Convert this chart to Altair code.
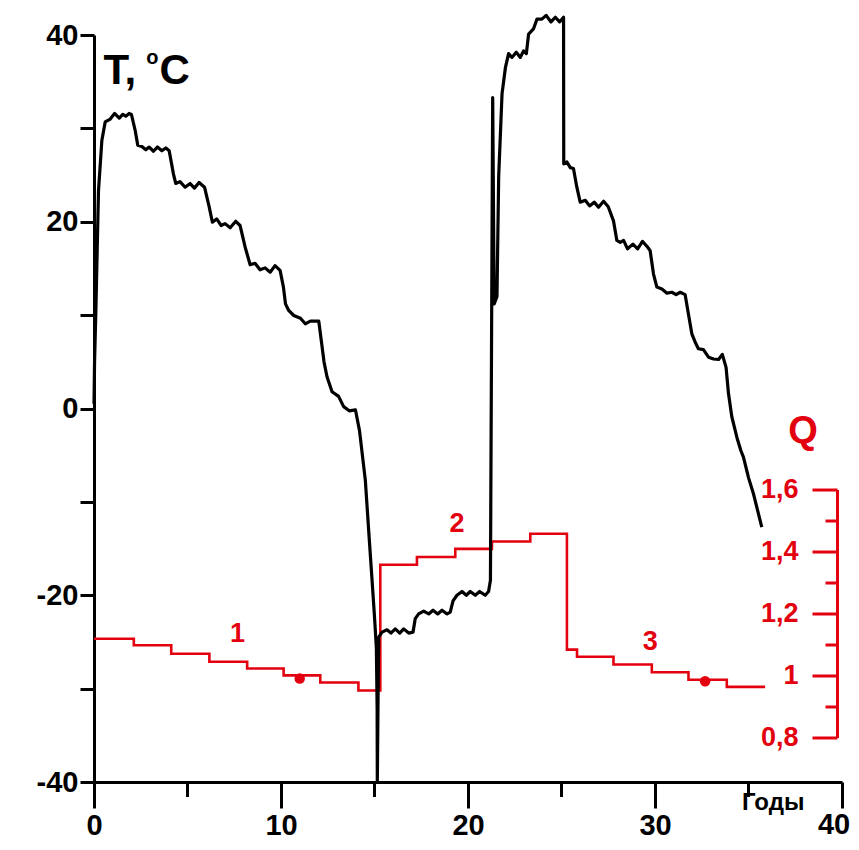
import altair as alt
import pandas as pd

# ---------------- data ----------------
t_year = [0.0, 0.03, 0.1, 0.24, 0.42, 0.6, 0.87, 1.1, 1.35, 1.54, 1.7, 1.88, 2.0,
          2.2, 2.34, 2.56, 2.77, 2.95, 3.18, 3.39, 3.63, 3.84, 4.02,
          4.25, 4.37, 4.6, 4.87, 5.14, 5.37, 5.62, 5.91,
          6.16, 6.33, 6.56, 6.8, 7.01, 7.28, 7.58, 7.81,
          8.08, 8.35, 8.61, 8.88, 9.15, 9.42, 9.68, 9.95,
          10.13, 10.24, 10.41, 10.68, 11.04, 11.3, 11.57, 12.02,
          12.2, 12.3, 12.46, 12.73, 13.08, 13.35, 13.65, 13.98,
          14.2, 14.51, 14.69, 14.87, 14.99, 15.1, 15.14, 15.15,
          15.22, 15.4, 15.67, 15.88, 16.11, 16.35, 16.56, 16.83, 17.06,
          17.18, 17.36, 17.63, 17.9, 18.13, 18.38, 18.61, 18.88, 19.05,
          19.2, 19.41, 19.68, 19.91, 20.12, 20.39, 20.62, 20.92, 21.1,
          21.2, 21.32, 21.4, 21.55, 21.64, 21.82, 22.0, 22.17, 22.35, 22.58, 22.8, 22.97, 23.12,
          23.24, 23.5, 23.69, 23.95, 24.18, 24.44, 24.67, 24.9, 25.11,
          25.12, 25.29, 25.47, 25.64, 25.82, 26.0, 26.27, 26.5, 26.75, 26.98, 27.25, 27.5,
          27.78, 27.96, 28.14, 28.32, 28.53, 28.82, 29.07, 29.33, 29.6, 29.74,
          29.92, 30.1, 30.37, 30.64, 30.9, 31.13, 31.35, 31.61,
          31.79, 31.97, 32.15, 32.32, 32.59, 32.86, 33.13, 33.4, 33.6,
          33.8, 33.93, 34.11, 34.38, 34.59, 34.73, 35.0, 35.26, 35.71]
t_temp = [0.5, 5.0, 10.5, 23.3, 28.7, 30.7, 31.0, 31.6, 31.1, 31.5, 31.3, 31.6, 31.5,
          29.8, 28.2, 28.05, 27.7, 28.0, 27.55, 28.0, 27.6, 27.9, 27.6,
          25.1, 24.1, 24.3, 23.7, 24.1, 23.6, 24.2, 23.7,
          21.6, 19.95, 20.3, 19.6, 19.8, 19.35, 20.05, 19.6,
          17.3, 15.4, 15.55, 14.85, 15.06, 14.6, 15.3, 14.8,
          13.0, 11.2, 10.5, 9.96, 9.67, 9.07, 9.35, 9.35,
          6.57, 5.0, 3.4, 1.8, 1.3, 0.2, -0.25, -0.14,
          -2.4, -7.7, -13.1, -18.4, -22.0, -25.6, -32.0, -40.0,
          -24.5, -23.95, -23.7, -24.05, -23.6, -24.05, -23.6, -24.05, -23.95,
          -22.5, -22.0, -21.7, -22.0, -21.6, -22.0, -21.6, -22.0, -21.8,
          -20.6, -20.0, -19.6, -20.0, -19.6, -20.0, -19.6, -20.0, -19.6,
          -18.4, 33.3, 11.2, 12.0, 24.8, 33.7, 36.5, 38.0, 37.6, 38.15, 37.6, 38.3, 38.0,
          40.1, 40.65, 41.7, 41.7, 42.1, 41.4, 41.9, 41.4, 41.9,
          26.2, 26.4, 25.8, 25.7, 23.7, 22.1, 22.3, 21.7, 22.1, 21.55, 22.2, 21.6,
          20.1, 18.0, 17.8, 18.0, 17.1, 17.6, 17.1, 17.9, 17.3, 16.9,
          14.4, 13.0, 12.8, 12.35, 12.45, 12.2, 12.45, 12.2,
          10.1, 8.0, 7.1, 6.4, 6.3, 5.5, 5.3, 5.25, 5.8,
          4.4, 1.6, -0.9, -3.1, -4.5, -5.2, -7.4, -9.1, -12.7]

q_year = [0, 2.13, 4.13, 6.17, 8.19, 10.14, 12.1, 14.14,
          15.31, 17.27, 19.32, 21.28, 23.33,
          25.29, 25.83, 27.78, 29.83, 31.79, 33.84, 35.89]
q_val = [1.120, 1.099, 1.072, 1.046, 1.024, 1.002, 0.979, 0.953,
         1.359, 1.384, 1.410, 1.434, 1.459,
         1.085, 1.062, 1.037, 1.012, 0.988, 0.965, 0.965]

dot_year = [11.0, 32.68]
dot_q = [0.992, 0.983]

label_text = ["1", "2", "3"]
label_year = [7.67, 19.41, 29.75]
label_temp = [-24.1, -12.4, -25.0]

x_major = [0, 10, 20, 30, 40]
x_minor = [5, 15, 25, 35]
t_ticks = [-40, -30, -20, -10, 0, 10, 20, 30, 40]
q_major = [0.8, 1.0, 1.2, 1.4, 1.6]
q_major_labels = ["0,8", "1", "1,2", "1,4", "1,6"]
q_minor = [0.9, 1.1, 1.3, 1.5]

# ---------------- style ----------------
RED = "#e3000f"
FONT = "Liberation Sans"
W, H = 748, 747
QX = 743.5  # pixel position of the Q axis line inside the plot
XTICK = 26
XPAD = 3

xs = alt.Scale(domain=[0, 40], nice=False, zero=False)
ts = alt.Scale(domain=[-40, 40], nice=False, zero=False)
qs = alt.Scale(domain=[0.658, 3.068], nice=False, zero=False)

tdf = pd.DataFrame({"year": t_year, "T": t_temp, "i": list(range(len(t_year)))})

black = alt.Chart(tdf).mark_line(color="black", strokeWidth=3.2, strokeJoin="round").encode(
    x=alt.X("year:Q", scale=xs, axis=alt.Axis(
        values=x_major, labelExpr="datum.value < 40 ? toString(datum.value) : ''",
        tickSize=XTICK, tickWidth=3, tickColor="black",
        domainWidth=3, domainColor="black", labelFont=FONT, labelFontSize=29,
        labelFontWeight="bold", labelColor="black", labelPadding=XPAD, title=None,
        grid=False, labelFlush=False)),
    y=alt.Y("T:Q", scale=ts, axis=alt.Axis(
        values=t_ticks, labelExpr="datum.value % 20 == 0 ? toString(datum.value) : ''",
        tickSize=14, tickWidth=3, tickColor="black", domainWidth=3, domainColor="black",
        labelFont=FONT, labelFontSize=29, labelFontWeight="bold", labelColor="black",
        labelPadding=2, title=None, grid=False)),
    order="i:Q",
)

# last x tick label, nudged left as in the reference so it stays inside the page
last_label = alt.Chart(pd.DataFrame({"year": [x_major[-1]], "txt": [str(x_major[-1])]})).mark_text(
    color="black", font=FONT, fontSize=29, fontWeight="bold", baseline="top", align="center", dx=-8).encode(
    x=alt.X("year:Q", scale=xs), y=alt.value(H + XTICK + XPAD), text="txt:N")

minor_ticks = alt.Chart(pd.DataFrame({"year": x_minor})).mark_rule(
    color="black", strokeWidth=3).encode(
    x=alt.X("year:Q", scale=xs), y=alt.value(H), y2=alt.value(H + 15))

labels = alt.Chart(pd.DataFrame({"year": label_year, "T": label_temp, "txt": label_text})).mark_text(
    color=RED, font=FONT, fontSize=27, fontWeight="bold", baseline="middle", align="center").encode(
    x=alt.X("year:Q", scale=xs), y=alt.Y("T:Q", scale=ts), text="txt:N")

title_big = alt.Chart(pd.DataFrame({"year": [0.51, 3.5], "T": [34.8, 34.8], "txt": ["T,", "C"]})).mark_text(
    color="black", font=FONT, fontSize=42, fontWeight="bold", baseline="alphabetic", align="left").encode(
    x=alt.X("year:Q", scale=xs), y=alt.Y("T:Q", scale=ts), text="txt:N")
title_sup = alt.Chart(pd.DataFrame({"year": [2.8], "T": [36.9], "txt": ["o"]})).mark_text(
    color="black", font=FONT, fontSize=20, fontWeight="bold", baseline="alphabetic", align="left").encode(
    x=alt.X("year:Q", scale=xs), y=alt.Y("T:Q", scale=ts), text="txt:N")

q_title = alt.Chart(pd.DataFrame({"year": [37.92], "T": [-2.57], "txt": ["Q"]})).mark_text(
    color=RED, font=FONT, fontSize=38, fontWeight="bold", baseline="middle", align="center").encode(
    x=alt.X("year:Q", scale=xs), y=alt.Y("T:Q", scale=ts), text="txt:N")

x_title = alt.Chart(pd.DataFrame({"year": [36.32], "T": [-42.2], "txt": ["Годы"]})).mark_text(
    color="black", font=FONT, fontSize=24, fontWeight="bold", baseline="middle", align="center").encode(
    x=alt.X("year:Q", scale=xs), y=alt.Y("T:Q", scale=ts), text="txt:N")

t_layer = alt.layer(minor_ticks, labels, title_big, title_sup, q_title, x_title, last_label, black)

# ---------------- Q layers ----------------
qdf = pd.DataFrame({"year": q_year, "q": q_val})
red = alt.Chart(qdf).mark_line(color=RED, strokeWidth=2.6, interpolate="step-after").encode(
    x=alt.X("year:Q", scale=xs), y=alt.Y("q:Q", scale=qs, axis=None))

dots = alt.Chart(pd.DataFrame({"year": dot_year, "q": dot_q})).mark_circle(
    color=RED, opacity=1, size=110).encode(
    x=alt.X("year:Q", scale=xs), y=alt.Y("q:Q", scale=qs, axis=None))

q_line = alt.Chart(pd.DataFrame({"q": [q_major[0]], "q2": [q_major[-1]]})).mark_rule(
    color=RED, strokeWidth=3).encode(
    x=alt.value(QX), y=alt.Y("q:Q", scale=qs, axis=None), y2="q2:Q")

q_major_ticks = alt.Chart(pd.DataFrame({"q": q_major})).mark_rule(color=RED, strokeWidth=3).encode(
    x=alt.value(QX - 25), x2=alt.value(QX), y=alt.Y("q:Q", scale=qs, axis=None))

q_minor_ticks = alt.Chart(pd.DataFrame({"q": q_minor})).mark_rule(color=RED, strokeWidth=3).encode(
    x=alt.value(QX - 12), x2=alt.value(QX), y=alt.Y("q:Q", scale=qs, axis=None))

q_labels = alt.Chart(pd.DataFrame({"q": q_major, "txt": q_major_labels})).mark_text(
    color=RED, font=FONT, fontSize=27, fontWeight="bold", baseline="middle", align="right").encode(
    x=alt.value(QX - 39), y=alt.Y("q:Q", scale=qs, axis=None), text="txt:N")

q_layer = alt.layer(red, dots, q_line, q_major_ticks, q_minor_ticks, q_labels)

chart = alt.layer(q_layer, t_layer).resolve_scale(y="independent").properties(
    width=W, height=H,
    autosize=alt.AutoSizeParams(type="none"),
    padding={"left": 86, "top": 27, "right": 8, "bottom": 58},
).configure_view(stroke=None)

chart.save("out.html", embed_options={"renderer": "svg", "actions": False})
